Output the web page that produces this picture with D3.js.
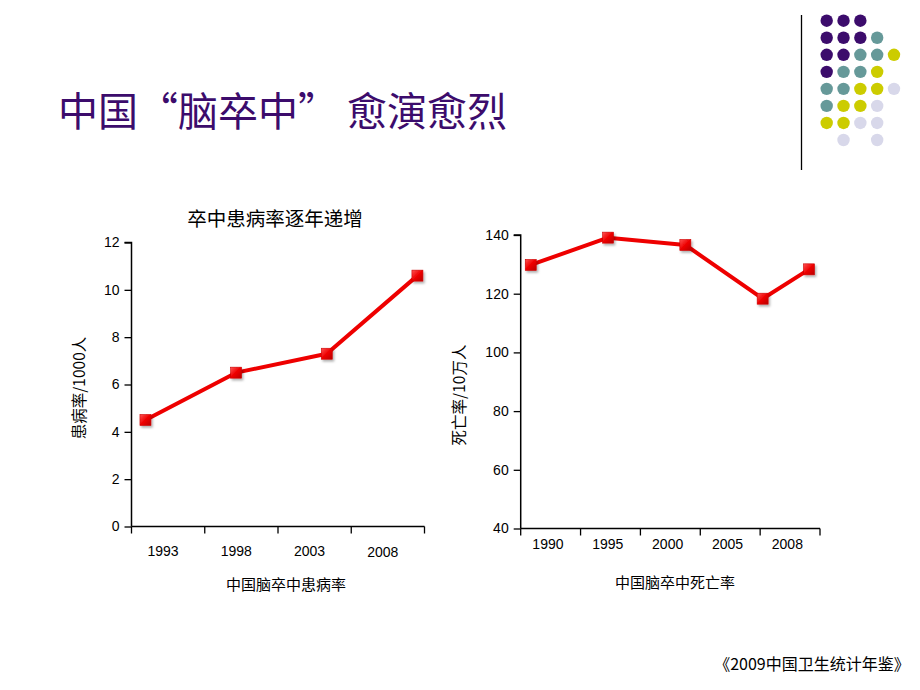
<!DOCTYPE html>
<html><head><meta charset="utf-8">
<script src="https://cdn.jsdelivr.net/npm/d3@7"></script>
<style>
html,body{margin:0;padding:0;background:#fff;}
svg{display:block;}
text{font-family:"Liberation Sans",Arial,"Noto Sans CJK SC",sans-serif;}
.cjk{font-family:"Noto Sans CJK SC","Liberation Sans",sans-serif;}
</style>
</head><body>
<div id="chart"></div>
<script>
// ---- data ----
const pageTitle = "中国“脑卒中” 愈演愈烈";
const sourceNote = "《2009中国卫生统计年鉴》";

const leftTitle = "卒中患病率逐年递增";
const leftYLabel = "患病率/1000人";
const leftXLabel = "中国脑卒中患病率";
const leftCategories = ["1993", "1998", "2003", "2008"];
const leftYears = [1993, 1998, 2003, 2008];
const leftValues = [4.5, 6.5, 7.3, 10.6];
const leftYTicks = [0, 2, 4, 6, 8, 10, 12];

const rightYLabel = "死亡率/10万人";
const rightXLabel = "中国脑卒中死亡率";
const rightCategories = ["1990", "1995", "2000", "2005", "2008"];
const rightYears = [1990, 1995, 2000, 2005, 2008];
const rightValues = [129.8, 139.1, 136.6, 118.3, 128.3];
const rightYTicks = [40, 60, 80, 100, 120, 140];

// decorative dot grid (P purple, T teal, Y yellow, L lavender)
const dotRows = ["PPP..", "PPPT.", "PPTTY", "PTTY.", "TTYYL", "TYYL.", "YYLL.", ".L.L."];
const dotColors = {P: "#3c0c6c", T: "#669999", Y: "#cccc00", L: "#d8d8ea"};

// ---- drawing ----
const W = 920, H = 690;
const svg = d3.select("#chart").append("svg").attr("width", W).attr("height", H);
const defs = svg.append("defs");
const grad = defs.append("linearGradient").attr("id", "mk").attr("x1", 0).attr("y1", 0).attr("x2", 1).attr("y2", 1);
grad.append("stop").attr("offset", "0%").attr("stop-color", "#ff5555");
grad.append("stop").attr("offset", "50%").attr("stop-color", "#ee0000");
grad.append("stop").attr("offset", "100%").attr("stop-color", "#b80000");
const flt = defs.append("filter").attr("id", "sh").attr("x", "-50%").attr("y", "-50%").attr("width", "200%").attr("height", "200%");
flt.append("feDropShadow").attr("dx", 1.5).attr("dy", 2).attr("stdDeviation", 1.2).attr("flood-color", "#000").attr("flood-opacity", 0.3);

// title
svg.append("text").attr("class", "cjk").attr("x", 58).attr("y", 109)
  .attr("dominant-baseline", "central").attr("font-size", 40).attr("fill", "#3c0c6c")
  .text(pageTitle);

// vertical rule
svg.append("line").attr("x1", 801.5).attr("x2", 801.5).attr("y1", 15).attr("y2", 170)
  .attr("stroke", "#000").attr("stroke-width", 1.3);

// dot grid
const dotX = d3.scaleLinear().domain([0, 4]).range([826.7, 894]);
const dotY = d3.scaleLinear().domain([0, 7]).range([20.7, 140]);
dotRows.forEach((row, r) => {
  row.split("").forEach((c, k) => {
    if (c === ".") return;
    svg.append("circle").attr("cx", dotX(k)).attr("cy", dotY(r)).attr("r", 6.2).attr("fill", dotColors[c]);
  });
});

function drawChart(o) {
  const g = svg.append("g");
  const y = d3.scaleLinear().domain(o.yDomain).range([o.y0, o.y1]);
  const band = d3.scaleBand().domain(o.categories).range([o.x0, o.x1]).paddingInner(0).paddingOuter(0);
  const xp = d3.scaleLinear().domain(o.yearDomain).range([o.x0, o.x1]);

  // y axis
  const yAxis = d3.axisLeft(y).tickValues(o.yTicks).tickSize(7).tickPadding(5).tickFormat(d3.format("d"));
  const ya = g.append("g").attr("transform", `translate(${o.x0},0)`).call(yAxis);
  ya.select(".domain").attr("stroke", "#000").attr("stroke-width", 1.5).attr("d", `M-7,${o.y1}H0V${o.y0}`);
  ya.selectAll(".tick line").attr("stroke", "#000").attr("stroke-width", 1.3);
  ya.selectAll(".tick text").attr("font-size", 14).attr("fill", "#000")
    .attr("font-family", "'Liberation Sans',Arial,sans-serif");

  // x axis line and ticks at band boundaries
  g.append("line").attr("x1", o.x0).attr("x2", o.x1).attr("y1", o.y0).attr("y2", o.y0)
    .attr("stroke", "#000").attr("stroke-width", 1.5);
  const bounds = o.categories.map(c => band(c)).concat([o.x1]);
  g.selectAll(".xt").data(bounds).enter().append("line")
    .attr("x1", d => d).attr("x2", d => d).attr("y1", o.y0).attr("y2", o.y0 + 7)
    .attr("stroke", "#000").attr("stroke-width", 1.3);
  g.selectAll(".xl").data(o.categories).enter().append("text")
    .attr("x", d => band(d) + band.bandwidth() * o.labelFrac)
    .attr("y", (d, i) => o.labelY + (o.labelDy ? o.labelDy[i] : 0))
    .attr("text-anchor", "middle").attr("dominant-baseline", "central")
    .attr("font-size", 14).attr("fill", "#000").text(d => d);

  // line
  const pts = o.years.map((yr, i) => [xp(yr), y(o.values[i])]);
  g.append("path").attr("d", d3.line()(pts)).attr("fill", "none")
    .attr("stroke", "#ee0000").attr("stroke-width", 4).attr("stroke-linejoin", "round");
  g.selectAll(".mk").data(pts).enter().append("rect")
    .attr("x", d => d[0] - 5.5).attr("y", d => d[1] - 5.5).attr("width", 11).attr("height", 11)
    .attr("fill", "url(#mk)").attr("stroke", "#cc0000").attr("stroke-width", 0.6)
    .attr("filter", "url(#sh)");

  // axis titles
  g.append("text").attr("class", "cjk")
    .attr("transform", `translate(${o.yLabelX},${o.yLabelY}) rotate(-90)`)
    .attr("text-anchor", "middle").attr("dominant-baseline", "central")
    .attr("font-size", 15.5).attr("fill", "#000").text(o.yLabel);
  g.append("text").attr("class", "cjk").attr("x", o.xLabelX).attr("y", o.xLabelY)
    .attr("text-anchor", "middle").attr("dominant-baseline", "central")
    .attr("font-size", 15).attr("fill", "#000").text(o.xLabel);
  if (o.title) {
    g.append("text").attr("class", "cjk").attr("x", o.titleX).attr("y", o.titleY)
      .attr("text-anchor", "middle").attr("dominant-baseline", "central")
      .attr("font-size", 19.5).attr("fill", "#000").text(o.title);
  }
}

drawChart({
  categories: leftCategories, years: leftYears, values: leftValues, yTicks: leftYTicks,
  yDomain: [0, 12], y0: 526.5, y1: 242.5, x0: 131.5, x1: 424.5,
  yearDomain: [1992.23, 2008.39], labelFrac: 0.43, labelY: 550.5, labelDy: [0, 0, 0, 1.5],
  yLabel: leftYLabel, yLabelX: 78, yLabelY: 388,
  xLabel: leftXLabel, xLabelX: 286, xLabelY: 583,
  title: leftTitle, titleX: 275, titleY: 217
});

drawChart({
  categories: rightCategories, years: rightYears, values: rightValues, yTicks: rightYTicks,
  yDomain: [40, 140], y0: 528.5, y1: 235, x0: 520.7, x1: 820,
  yearDomain: [1989.35, 2008.71], labelFrac: 0.455, labelY: 544,
  yLabel: rightYLabel, yLabelX: 458, yLabelY: 395,
  xLabel: rightXLabel, xLabelX: 675, xLabelY: 581.5
});

// source
svg.append("text").attr("class", "cjk").attr("x", 812).attr("y", 663)
  .attr("text-anchor", "middle").attr("dominant-baseline", "central")
  .attr("font-size", 16).attr("fill", "#000").text(sourceNote);
</script>
</body></html>
